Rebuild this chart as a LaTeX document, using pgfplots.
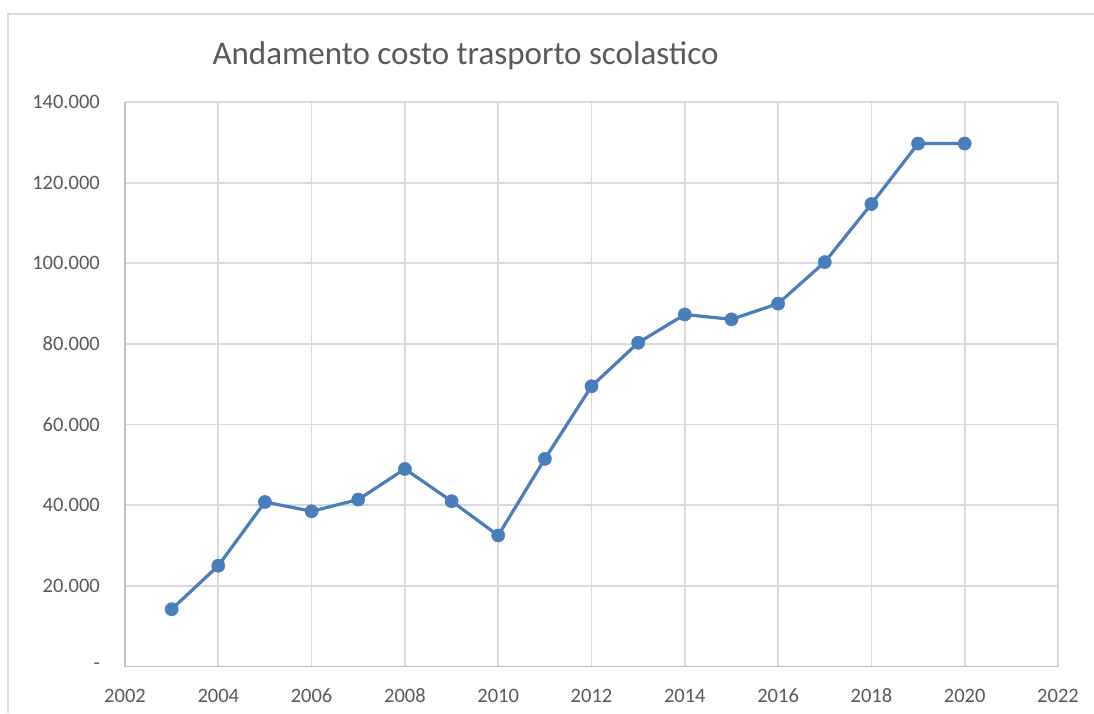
\documentclass[border=0pt]{standalone}
\usepackage{fontspec}
\setmainfont{Carlito}
\usepackage{pgfplots}
\pgfplotsset{compat=1.18}
\definecolor{gridc}{HTML}{D9D9D9}
\definecolor{axisc}{HTML}{BFBFBF}
\definecolor{txt}{HTML}{595959}
\definecolor{serie}{HTML}{4A7EBB}
\begin{document}
\begin{tikzpicture}[x=1pt,y=1pt]
\useasboundingbox (0,0) rectangle (1094,-713);
\draw[gridc, line width=1.8pt] (8,-713) -- (8,-14) -- (1094,-14);
\node[txt, font=\fontsize{33}{38}\selectfont] at (465.5,-56) {Andamento costo trasporto scolastico};
\begin{axis}[
  at={(125pt,-666.5pt)}, anchor=south west,
  scale only axis, width=933pt, height=564.5pt,
  xmin=2002, xmax=2022, ymin=0, ymax=140000,
  axis x line*=bottom, axis y line*=left,
  axis line style={axisc, line width=1.8pt},
  scaled y ticks=false, scaled x ticks=false,
  xtick={2002,2004,...,2022},
  xticklabels={2002,2004,2006,2008,2010,2012,2014,2016,2018,2020,2022},
  ytick={0,20000,...,140000},
  yticklabels={{-\hspace{12pt}},20.000,40.000,60.000,80.000,100.000,120.000,140.000},
  grid=major, major grid style={gridc, line width=1.8pt},
  major tick length=0pt,
  tick label style={font=\fontsize{20.5}{24}\selectfont, text=txt, inner sep=0pt},
  yticklabel style={anchor=east, xshift=-25pt},
  xticklabel style={anchor=north, yshift=-22pt},
  clip=false,
]
\addplot[serie, line width=3.2pt, mark=*, mark size=6.6pt,
  mark options={fill=serie, draw=serie, line width=0.5pt}] coordinates {
(2003,14200) (2004,25000) (2005,40800) (2006,38500) (2007,41400)
(2008,49000) (2009,41000) (2010,32500) (2011,51500) (2012,69500)
(2013,80300) (2014,87300) (2015,86100) (2016,90000) (2017,100300)
(2018,114700) (2019,129700) (2020,129700)};
\end{axis}
\end{tikzpicture}
\end{document}
